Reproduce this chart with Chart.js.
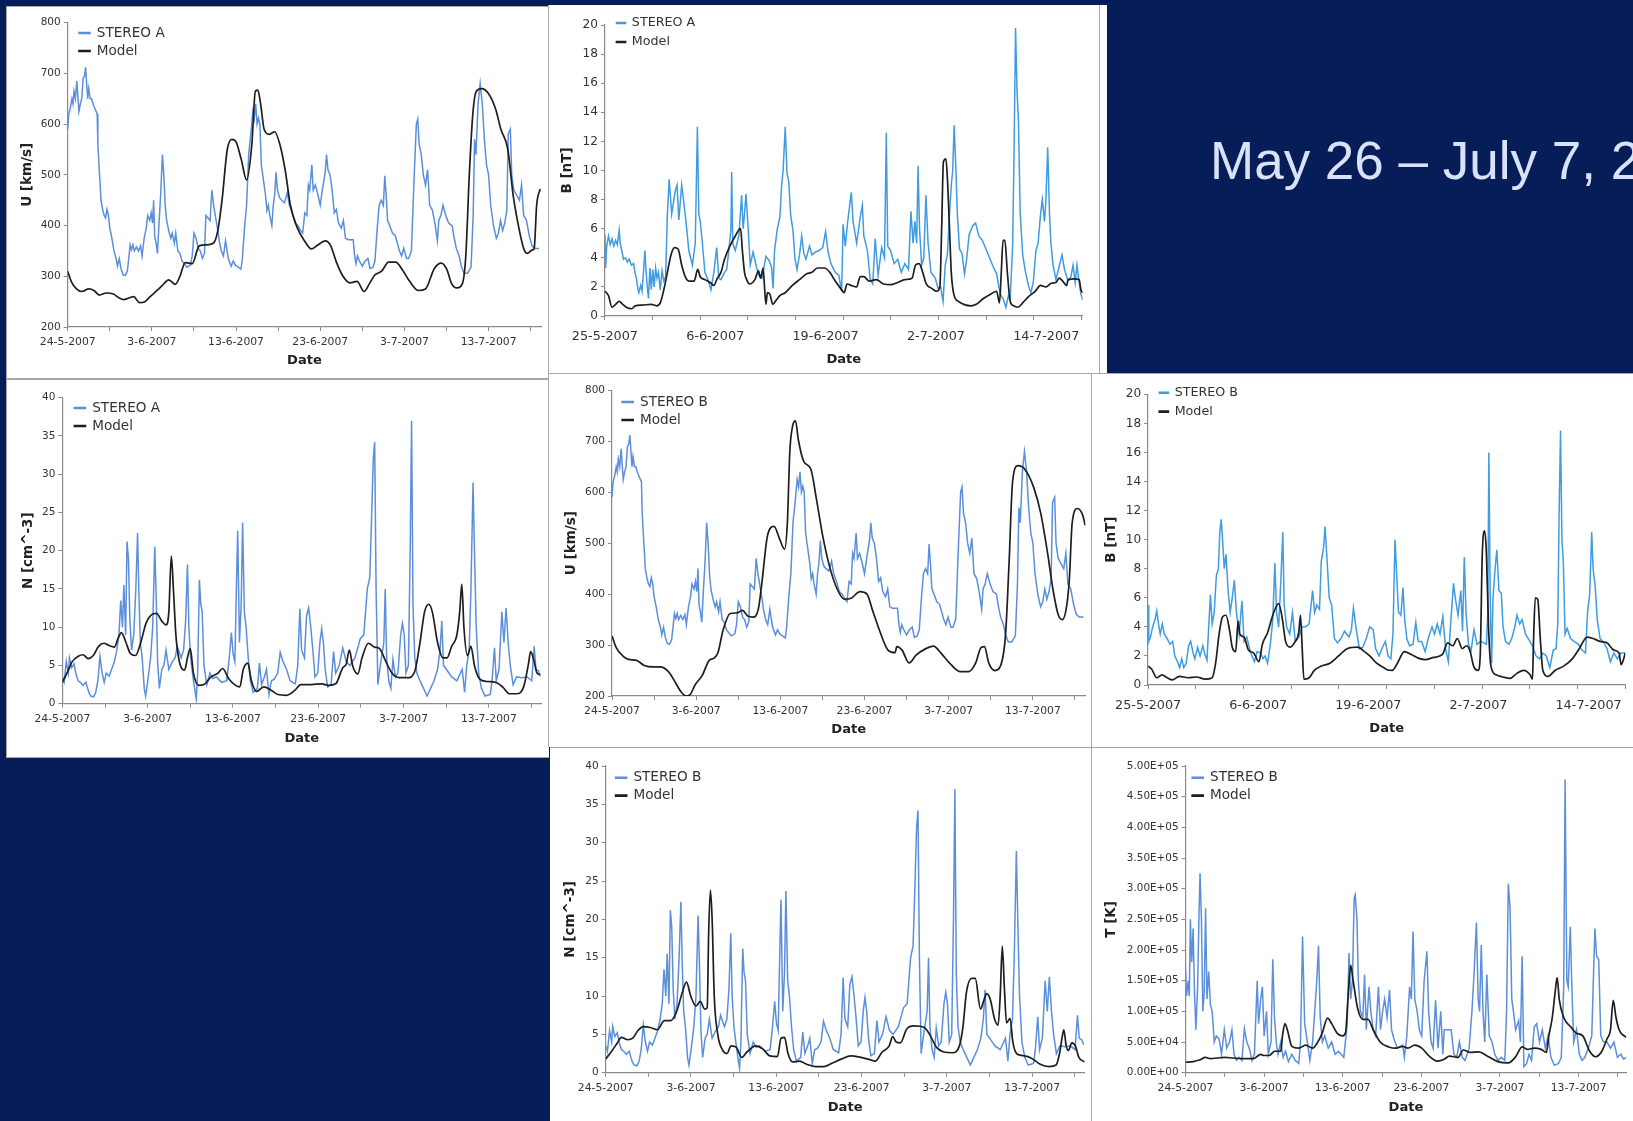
<!DOCTYPE html>
<html><head><meta charset="utf-8">
<style>
html,body{margin:0;padding:0;background:#071d58;width:1633px;height:1121px;overflow:hidden}
.panel{position:absolute;background:#fff;box-sizing:border-box}
.panel canvas{position:absolute;left:0;top:0}
#headline{position:absolute;left:1210px;top:131px;font:53px/60px "Liberation Sans",Arial,sans-serif;color:#d8e2fa;white-space:nowrap}
#rule{position:absolute;left:1099px;top:5px;width:1px;height:368px;background:#a8a8a8}
</style>
<script src="https://cdn.jsdelivr.net/npm/chart.js@4"></script>
</head><body>
<div id="headline">May 26 – July 7, 2007</div>
<script>
const uObsTimes=[0,3,7,12,15,18,22,26,29,32,36,40,44,48,51,54,57,60,64,68,72,78,84,86,90,95,100,104,108,112,116,120,126,132,138,142,147,152,158,164,170,174,178,182,186,190,196,202,208,212,218,224,228,234,238,242,245,248,252,256,260,265,270,274,278,282,288,294,298,304,308,314,320,326,332,340,350,355,360,366,372,378,384,390,394,400,406,411,416,422,428,432,438,444,450,458,466,472,478,486,494,498,504,510,516,522,528,532,536,540,544,548,552,558,564,568,572,576,582,586,590,594,598,604,610,618,626,632,640,648,656,664,670,676,682,686,690,696,700,706,712,720,726,734,738,742,748,754,760,766,772,780,786,792,800,814,818,822,826,832,840,848,856,862,870,876,882,888,894,900,904,908,912,918,926,934,940,946,952,958,966,972,980,988,994,998,1002,1008,1014,1020,1026,1032,1040,1048,1054,1058,1064,1070,1078,1086,1096,1102,1108,1116,1122,1130,1140,1150,1156,1160,1164,1170,1176,1182,1188,1194,1200,1206,1214,1222,1228,1234,1240,1246,1252,1256,1262,1266,1272,1280,1288,1294,1300,1308,1316,1324,1332,1344];
const uObsValues=[590,620,630,650,640,665,650,685,655,625,640,650,690,695,712,680,650,670,650,650,640,630,620,560,510,450,430,420,415,432,420,395,375,350,335,320,335,315,303,302,310,335,362,352,362,350,358,350,360,340,375,395,420,410,425,405,450,380,365,345,400,460,540,500,440,410,390,375,385,365,385,350,345,330,325,318,322,340,385,375,355,350,335,345,420,415,410,470,440,415,390,370,350,340,370,335,320,330,322,318,314,335,395,440,540,580,625,610,640,600,612,600,520,490,460,430,440,420,400,440,460,505,470,455,450,445,465,440,425,405,400,390,385,425,420,480,470,520,470,480,465,440,470,505,540,510,500,470,425,432,405,395,410,375,372,372,340,325,340,330,320,330,335,315,318,330,390,440,450,440,498,460,410,400,385,380,365,350,340,355,335,335,350,500,600,610,560,540,500,480,510,440,430,400,370,410,420,440,420,405,400,375,355,340,320,306,306,318,420,570,540,640,680,640,570,520,500,440,400,375,385,410,390,405,430,580,590,500,470,460,450,480,420,410,380,360,355,355];
const uModelATimes=[0,10,25,40,60,75,90,110,130,145,160,188,205,220,235,255,270,288,307,320,335,355,375,395,415,428,440,455,468,480,495,510,525,535,542,550,560,575,590,605,620,635,655,675,695,710,735,750,765,785,805,825,845,860,875,895,915,935,955,975,1000,1020,1045,1065,1080,1095,1110,1125,1135,1145,1155,1165,1180,1200,1220,1235,1255,1270,1285,1300,1310,1325,1330,1337,1347];
const uModelAValues=[310,290,275,270,275,272,263,267,265,258,254,260,248,250,260,272,282,293,284,300,327,325,360,362,365,390,450,550,570,565,530,490,560,665,667,640,590,580,585,560,510,440,395,370,354,360,370,360,330,300,287,290,270,285,302,310,328,328,312,290,272,275,315,326,315,285,277,285,340,500,620,665,670,660,630,590,550,460,400,355,345,352,355,440,472];
const uModelBTimes=[0,12,32,47,70,92,117,137,162,182,197,212,222,237,257,277,292,302,317,337,357,372,387,402,417,427,442,452,462,477,492,500,507,515,523,532,547,567,582,602,622,642,662,682,707,727,742,762,787,807,812,827,847,867,892,917,937,962,992,1017,1037,1052,1062,1074,1092,1107,1122,1132,1142,1157,1177,1202,1222,1242,1257,1272,1284,1297,1304,1312,1327,1342,1349];
const uModelBValues=[318,295,278,272,270,260,257,257,247,225,208,200,202,222,240,270,275,285,330,362,363,368,357,355,370,420,510,530,533,510,488,540,680,730,740,700,660,645,590,510,450,410,390,392,405,400,370,330,290,285,297,290,265,280,292,298,285,265,248,248,265,295,297,265,250,258,320,460,620,652,645,610,560,480,410,360,350,380,430,540,568,555,535];

const bAObsTimes=[0,2,5,10,15,20,25,30,35,40,43,48,52,58,63,68,74,80,85,88,92,95,100,104,108,112,115,118,122,126,130,134,138,142,146,150,155,160,165,170,175,180,187,197,202,207,215,220,227,235,245,253,259,263,267,273,280,290,297,305,313,319,325,335,341,347,353,355,358,365,375,383,387,391,395,400,407,415,425,431,440,451,460,467,471,475,483,490,495,499,505,510,515,520,527,532,538,545,551,557,563,573,580,590,600,610,618,625,633,645,655,663,667,673,680,690,695,705,715,721,725,735,743,750,757,765,775,783,788,792,800,810,820,830,840,850,857,863,868,873,877,881,887,893,899,905,913,925,933,940,947,953,959,965,970,974,978,983,987,993,1000,1007,1013,1020,1030,1038,1047,1057,1067,1077,1087,1097,1107,1115,1123,1130,1135,1142,1146,1150,1154,1158,1163,1170,1178,1187,1193,1200,1207,1213,1220,1225,1231,1235,1240,1245,1249,1255,1263,1273,1280,1287,1297,1305,1311,1317,1322,1327,1333,1338];
const bAObsValues=[5.6,3.3,4.8,5.5,4.9,5.3,4.8,5.2,4.9,5.9,5,4.4,3.9,4,3.7,3.9,3.5,3.6,2.9,2.6,1.9,1.6,2.1,1.7,3,4.5,3.2,2.2,1.2,3.3,1.8,3.2,2,3.3,2.6,3,1.8,3.1,2.4,2.7,7,9.4,7,8.6,9,6.6,9,8,6.5,4.5,3.5,5,13,7,6.5,5,3,2.4,1.8,3,4.7,2.6,2.5,3,3.2,4.5,6,9.9,5,4.5,5.5,8.3,6,7,8.4,6.5,3.5,4.4,3.3,2.8,2.6,4.1,3.8,3.3,1.9,4.5,6,6.8,9,10,13,9.8,9.2,7,5.8,4,3.2,4.2,5.5,4.3,3.9,4.8,4.2,4.4,4.5,4.7,5.8,4.4,3.6,3,2.8,1.7,6.3,4.8,6.5,8.5,6.5,5,6.8,7.6,5.5,4.5,2.5,2.2,5.3,2.8,4.7,4,12.6,4.8,4.5,3.6,3.9,3,3.6,3.2,7.2,5,6.5,5,10.3,6,3.5,4,8.3,5,3,2.6,1.9,2,1,3.5,4.2,7,9,10,13.1,10,7,4.6,4.3,2.9,3.9,5.6,6.2,6.4,5.5,5.2,4.6,4,3.4,2.9,1.5,1.2,0.6,1.4,1.2,5,11.7,19.8,15.5,13.5,7,4.2,3,2,1.6,2.4,4.5,5,7,8,6.5,8,11.6,7,5,3.5,2.5,3.5,4.2,3.2,2.4,2.7,3.5,2.3,3.5,2.5,1.5,1.1];
const bAModelTimes=[0,10,20,30,40,50,60,75,85,105,130,145,155,165,175,185,195,205,215,225,235,250,260,267,280,295,305,315,325,335,350,365,380,385,391,397,405,420,430,436,443,447,451,455,462,470,480,490,505,525,545,565,580,595,615,630,645,660,670,678,690,705,715,725,740,760,780,800,820,840,860,870,880,890,900,915,930,938,943,948,955,960,965,970,977,990,1005,1025,1040,1060,1080,1097,1105,1110,1115,1120,1127,1135,1145,1157,1170,1185,1205,1220,1235,1250,1263,1272,1282,1293,1297,1315,1328,1333,1338];
const bAModelValues=[1.7,1.4,0.6,0.8,1,0.8,0.6,0.5,0.7,0.75,0.8,0.7,0.9,1.8,3,4.2,4.7,4.6,3.5,2.7,2.4,2.4,3.2,2.7,2.5,2.3,2.1,2.6,3,3.9,4.8,5.5,6,4.5,3,2.5,2.2,2.5,3.1,2.6,3.3,2,0.8,1.6,1.5,0.8,1.1,1.4,1.6,2.1,2.5,2.9,3,3.3,3.3,3,2.4,1.9,1.6,2.2,2.1,2,2.7,2.7,2.4,2.5,2.2,2.15,2.3,2.5,2.6,3.5,3.6,3,2.2,1.9,1.7,2,6,10.6,10.8,9,6,3,1.5,1,0.8,0.7,0.8,1.2,1.5,1.7,0.9,3,5.2,5.2,3,1,0.7,0.6,0.9,1.3,1.7,2.1,2,2.25,2.3,2.6,2.4,2.1,2.5,2.55,2.5,1.8,1.6];

const nObsTimes=[0,5,11,17,20,26,33,39,45,51,59,67,75,81,89,95,101,107,113,119,125,133,141,148,155,161,166,171,175,180,184,188,192,197,203,209,214,218,222,227,233,237,243,251,257,263,267,271,276,283,289,295,303,313,321,327,338,345,351,356,360,365,373,381,385,390,394,398,403,411,420,428,438,453,468,475,481,486,491,495,499,504,509,513,518,523,529,535,543,555,561,567,575,581,588,595,603,613,620,628,638,648,663,670,676,681,689,695,701,707,713,719,727,733,738,743,748,755,765,772,778,788,798,808,818,833,848,858,868,875,880,885,889,893,898,905,915,919,923,929,935,941,948,955,963,968,973,978,985,990,994,998,1003,1009,1018,1028,1038,1048,1058,1068,1075,1080,1085,1093,1108,1123,1138,1145,1151,1158,1163,1169,1173,1178,1185,1193,1203,1218,1223,1230,1235,1243,1251,1257,1263,1269,1275,1283,1293,1308,1323,1336,1343,1348,1355,1361];
const nObsValues=[3.5,2.8,5.5,4,6,4.7,5.2,3.8,3,2.8,2.4,2.8,1.5,1,0.9,1.5,3,6.2,4,2.8,4,3.6,4.6,5.5,7,9,13.5,10,15.5,9,21.2,19,11,7,9,15,22.3,14,8,6,2,1,3,6,10,20.5,14,5.5,2,4.5,5,7,4.5,5.5,6,7.5,6,7,11,18.2,10,6,3,0.6,4,16.2,13,12,5,2.5,4,3.3,3.5,2.8,3,6,9.3,6.5,5.5,14.5,22.6,8,13,23.7,12,10,6,3,1.5,2,5.3,2.5,3.5,4.5,1.2,3,3.2,4,6.7,5.5,4.5,3,2.6,5,12.4,7,6,11.5,12.5,10,7,3.5,4,8,9.8,8,4.5,2.2,2.5,6.8,4,5,7.3,5.5,5,6,8.5,9,15,16.5,24,32,34.2,15,2.5,5,8,15,6,3,2,5.8,3.5,4,9,10.5,9,4,5,20,37,13,6,4,3,2,1,2,3,4.5,7,10.8,5,4.5,3.5,3,4.5,1.5,5,7,15,28.9,20,10,4,2,1,1.2,3,7.3,3,4.5,12,8,12.5,8,5,2.5,3.5,3.4,3.5,3,7.5,4.5,4.3,3.6];
const nModelATimes=[0,13,28,45,59,73,88,103,118,133,148,158,168,181,193,208,223,238,253,268,283,295,303,310,316,323,333,348,356,364,373,388,403,423,443,456,473,493,505,515,528,538,553,573,593,613,638,663,678,708,738,758,778,798,808,817,826,841,853,871,888,903,918,938,958,983,1003,1018,1031,1043,1053,1068,1083,1095,1108,1123,1131,1137,1143,1153,1163,1173,1188,1208,1233,1253,1273,1293,1313,1326,1333,1343,1351,1360];
const nModelAValues=[2.8,4,5.5,6.2,6.4,5.9,6.3,7.5,7.9,7.6,7.4,8.5,9.3,8,6.6,6.3,8,10.5,11.6,11.8,10.8,10.3,12,19.3,15,9,5.5,4.4,6,7.2,4,2.4,2.5,3.5,4,4.6,3.3,2.4,2.2,4.5,5.3,3,1.6,2.2,1.8,1.2,1.1,1.8,2.5,2.5,2.6,2.4,2.6,4.7,5.2,7,5,3.9,6,7.9,7.4,7.2,5.8,4,3.4,3.4,4.2,8,12,13,12,8,6,6,7.5,9,12,15.6,10,6.3,7.5,5,3.2,2.9,2.8,2.2,1.3,1.3,2.2,5,6.8,5.5,4,3.8];
const nModelBTimes=[0,17,32,45,62,77,92,107,127,147,167,185,202,217,230,242,257,269,282,289,293,298,303,309,319,332,345,357,372,387,402,427,447,467,489,499,509,519,532,552,572,597,622,647,672,697,727,752,767,787,807,817,827,839,857,877,907,922,942,962,987,1007,1017,1027,1042,1052,1067,1077,1085,1095,1107,1117,1123,1129,1135,1141,1151,1159,1172,1192,1212,1237,1262,1282,1292,1299,1304,1311,1317,1327,1337,1347,1364];
const nModelBValues=[1.8,2.8,3.8,4.6,4.3,4.5,5.5,6,5.9,5.6,6.8,6.8,8,10.3,11.8,10,8.7,9.3,8.3,8.5,18,23.8,20,10,5,3,2.5,3.5,3.3,2,2.7,3.5,3.1,2.2,2.1,4.5,4.6,2.5,1.4,1.5,1.1,0.8,0.8,1.3,1.8,2.2,2,1.7,1.5,2.7,3.5,4.7,4,3.9,5.7,6.1,5.9,5,3.3,2.7,2.6,3.5,6,10.5,12.3,12.3,8.3,9.5,10.3,9.5,7,6.2,10,16.5,11,6.5,7.1,4,2.4,2.2,1.9,1.1,0.8,1,2.5,4.5,5.6,3.5,2.9,3.9,3.5,2,1.4];

const bBObsTimes=[0,2,7,13,20,25,30,35,41,47,55,63,71,77,85,91,97,103,110,117,123,130,135,143,150,158,163,170,175,180,185,191,197,203,207,211,215,220,225,231,237,243,249,255,263,271,277,285,293,300,307,315,325,332,338,345,353,360,366,371,377,383,389,393,400,409,417,425,435,445,455,465,475,481,487,495,500,507,511,517,523,530,538,547,557,567,580,587,593,600,610,620,630,640,650,657,667,677,685,693,701,707,713,717,723,730,736,741,747,755,765,773,780,790,800,810,820,827,835,843,851,859,867,873,882,887,895,903,908,913,918,925,933,941,950,960,970,977,981,984,988,992,996,1002,1007,1013,1020,1025,1032,1042,1050,1059,1065,1073,1080,1090,1100,1110,1120,1130,1140,1150,1160,1170,1178,1183,1187,1191,1195,1199,1204,1210,1220,1230,1243,1253,1263,1269,1275,1281,1285,1291,1297,1305,1317,1325,1335,1345,1355,1365,1378];
const bBObsValues=[5.5,3,3.3,4,4.5,5.1,4.2,3.5,4.2,3.5,3.2,2.8,3,2,1.6,1.2,1.8,1.2,1.5,2.7,3,2.2,1.8,2.6,2,2.7,2.2,1.7,4,6.2,4.2,5,7.5,8,10.5,11.4,10,8,9,6.5,5,6,7.2,5,3.5,5.8,3,3.3,2.5,2,1.6,2.3,2.2,1.8,2,1.5,2.8,4.5,8.4,5,4,7,10.5,5.5,4,3.5,5,3,3.3,4,4,4.2,6.5,5,5.5,5.2,8.5,9.5,10.9,8.5,6,5.5,3.2,2.9,3.2,3.7,3.3,3.8,5.3,4,2.5,2.6,3.2,4,3.8,2.5,2,2.6,3,2,1.8,3.5,10,8,5,4.8,6.7,4.5,3.2,2.7,2.8,4.3,3,3,2.3,3.3,4,3.5,4.2,3.5,4.7,2.5,1.6,4,7,6,4.8,6.5,3.7,8.8,5,2.8,2.4,3.8,2.8,3,2.9,2.8,5,16,6,1.5,6,8,9.3,6.5,6.3,4,3,2.8,3.2,4,4.8,4.2,4.5,3.5,3.1,2.7,2,1.8,2.2,2,1.2,2.4,2.5,4.2,12,17.5,10,8.5,3.5,3.9,3.2,3,2.8,2.4,2.2,5,6.2,10.5,8,6.8,4.5,3.2,2.9,2.5,1.6,2.2,1.8,2.2,2.2];
const bBModelTimes=[0,10,25,40,55,70,90,115,140,165,185,195,205,215,225,235,243,253,260,265,277,290,305,320,330,345,360,377,388,397,410,425,435,440,445,450,465,480,500,525,550,575,605,625,640,660,680,690,705,720,740,760,780,800,825,850,865,880,893,907,920,930,940,953,959,965,972,977,983,990,1005,1025,1045,1065,1085,1103,1110,1113,1118,1125,1133,1140,1155,1175,1200,1225,1245,1268,1285,1305,1325,1345,1360,1366,1372,1378];
const bBModelValues=[1.3,1.1,0.5,0.7,0.5,0.35,0.6,0.5,0.55,0.4,0.5,1.5,3.5,4.7,4.8,3.8,2.6,2.3,4.4,3.5,3.3,2.4,2.2,1.6,2.8,3.6,4.8,5.6,4.5,3,2.6,3,3.6,4.8,2.5,0.4,0.5,1,1.3,1.5,2,2.5,2.6,2.3,2,1.5,1.2,1.05,1,1.5,2.3,2.1,1.85,1.75,1.9,2.1,2.9,2.7,3.2,2.5,2.7,2.3,1.3,1,2,9,10.6,9,4,1.3,0.7,0.55,0.45,0.8,1,0.7,0.4,3,6,5.9,3,1,0.6,1,1.3,1.8,2.5,3.3,3.2,3,2.9,2.4,2.2,1.4,1.7,2.2];

const tObsTimes=[0,3,8,11,14,18,22,26,30,35,39,42,46,50,54,58,62,67,72,77,83,89,97,104,112,119,127,134,140,147,155,163,170,177,184,192,199,207,211,217,222,227,234,239,247,252,257,262,267,275,282,289,297,307,317,327,332,338,344,352,359,367,372,379,384,389,395,402,412,422,432,442,457,467,472,477,482,487,490,495,499,505,512,517,522,530,535,542,549,557,563,569,575,582,589,595,602,612,627,632,639,647,652,657,662,669,675,682,689,697,702,709,715,722,729,737,743,747,767,775,783,791,799,807,819,827,833,840,845,849,854,859,864,870,877,885,893,902,912,922,927,932,937,942,947,953,962,967,972,977,985,992,999,1007,1014,1022,1030,1039,1047,1055,1065,1077,1085,1092,1096,1101,1105,1111,1116,1121,1129,1137,1145,1153,1163,1173,1177,1182,1187,1193,1199,1207,1217,1227,1237,1247,1257,1265,1273];
const tObsThousands=[170,125,150,125,250,180,235,130,70,140,260,325,250,100,130,268,120,165,110,100,50,60,55,30,70,40,50,70,30,20,25,20,72,50,40,20,30,150,80,120,140,60,100,30,50,185,90,50,30,50,25,35,18,30,20,15,50,222,80,50,20,50,90,150,207,90,50,60,40,50,30,35,25,80,195,120,150,285,290,250,150,100,90,160,70,140,100,70,60,140,70,100,120,90,135,70,55,40,45,25,60,140,120,230,120,100,70,60,150,198,100,50,40,118,40,100,30,70,70,30,25,50,25,20,40,100,160,245,120,100,208,100,50,160,60,50,30,20,25,20,100,308,270,120,100,70,85,50,190,10,15,30,20,75,80,50,70,40,60,25,12,15,25,140,478,150,140,238,130,50,70,30,20,25,40,60,140,235,190,185,60,50,50,40,50,25,30,22,25];
const tModelTimes=[0,22,42,57,72,92,112,137,162,197,217,227,242,257,275,280,287,294,307,327,347,367,382,395,410,422,437,452,462,469,477,484,497,512,527,542,562,587,607,627,642,662,682,702,727,747,762,787,802,822,847,872,902,932,952,972,987,1007,1027,1042,1049,1059,1067,1073,1079,1092,1112,1127,1147,1167,1184,1202,1217,1227,1235,1243,1252,1262,1273];
const tModelThousands=[17,18,21,25,23,24,25,24,23,23,30,28,28,35,35,60,80,70,43,40,45,40,50,65,89,80,65,60,65,120,175,150,105,87,87,70,50,42,40,43,40,45,40,28,19,22,27,25,37,33,34,27,18,16,25,42,38,40,38,33,60,90,130,155,120,90,75,65,60,35,26,35,55,70,118,90,70,62,58];

const dateLabelsDecadal=["24-5-2007","3-6-2007","13-6-2007","23-6-2007","3-7-2007","13-7-2007"];
const dateLabelsThirteen=["25-5-2007","6-6-2007","19-6-2007","2-7-2007","14-7-2007"];

function points(t,v){return t.map((x,i)=>({x,y:v[i]})).filter(p=>p.y!==undefined);}
const tf=(v)=>v===0?"0.00E+00":(v>=100000?(v/100000).toFixed(2)+"E+05":(v/10000).toFixed(2)+"E+04");

const noteLayout={id:"noteLayout",afterLayout(c){const o=c.options.plugins.noteLayout;const p=c.options.plugins.legend.labels.padding;const f=c.options.plugins.legend.labels.font.size;c.legend.left=o.x-p-2;c.legend.top=o.y-p-f/2;}};

function draw(cfg){
  const d=document.createElement("div");d.className="panel";
  const P=cfg.panel;
  d.style.cssText=`left:${P[0]}px;top:${P[1]}px;width:${P[2]}px;height:${P[3]}px;`+(cfg.border||"");
  const c=document.createElement("canvas");c.width=P[2];c.height=P[3];c.style.width=P[2]+"px";c.style.height=P[3]+"px";
  d.appendChild(c);document.body.appendChild(d);
  const pl=cfg.plot[0]-P[0],pt=cfg.plot[1]-P[1],pr=cfg.plot[2]-P[0],pb=cfg.plot[3]-P[1];
  const tickH=5,labH=P[3]-pb-tickH;
  const axisCol="#8a8a8a",txt="#333";
  const marks=[];for(let i=0;i*cfg.tickStep<=cfg.xMax+0.01;i++)marks.push(i*cfg.tickStep);
  const labelOf=new Map(cfg.labelAt.map((v,i)=>[v,cfg.labels[i]]));
  new Chart(c,{
    type:"line",
    data:{datasets:[
      {label:"Model",data:cfg.model,borderColor:"#1e1e1e",backgroundColor:"#1e1e1e",borderWidth:1.7,pointRadius:0,cubicInterpolationMode:"monotone"},
      {label:cfg.name,data:cfg.obs,borderColor:cfg.color,backgroundColor:cfg.color,borderWidth:1.5,pointRadius:0,tension:0}
    ]},
    plugins:[noteLayout],
    options:{
      responsive:false,animation:false,
      layout:{padding:{top:pt,right:P[2]-pr,left:0,bottom:0}},
      plugins:{
        title:{display:false},tooltip:{enabled:false},
        noteLayout:{x:cfg.legend[0]-P[0],y:cfg.legend[1]-P[1]},
        legend:{display:true,position:"chartArea",align:"start",
          labels:{boxWidth:cfg.legendBox,boxHeight:1,padding:cfg.legendGap-cfg.legendFont,color:txt,
            font:{family:"DejaVu Sans",size:cfg.legendFont},
            sort:(a,b)=>b.datasetIndex-a.datasetIndex}}
      },
      scales:{
        x:{type:"linear",axis:"x",position:"bottom",weight:0,min:0,max:cfg.xMax,
          afterBuildTicks:s=>{s.ticks=marks.map(v=>({value:v}));},
          afterFit:s=>{s.height=tickH;},
          border:{display:true,color:axisCol,width:1.2},
          grid:{display:true,drawOnChartArea:false,drawTicks:true,tickLength:4,color:axisCol},
          ticks:{display:false}},
        x2:{type:"linear",axis:"x",position:"bottom",weight:1,min:0,max:cfg.xMax,
          afterBuildTicks:s=>{s.ticks=cfg.labelAt.map(v=>({value:v}));},
          afterFit:s=>{s.height=labH;},
          border:{display:false},grid:{display:false,drawTicks:false},
          ticks:{display:true,autoSkip:false,maxRotation:0,minRotation:0,padding:cfg.xPad,color:txt,
            font:{family:"DejaVu Sans",size:cfg.tickFont},callback:v=>labelOf.get(v)||""},
          title:{display:true,text:"Date",color:"#222",font:{family:"DejaVu Sans",size:13.1,weight:"bold"},padding:{top:0,bottom:cfg.dateBottom}}},
        y:{type:"linear",position:"left",min:cfg.yMin,max:cfg.yMax,
          afterFit:s=>{s.width=pl;},
          border:{display:true,color:axisCol,width:1.2},
          grid:{display:true,drawOnChartArea:false,drawTicks:true,tickLength:4,color:axisCol},
          ticks:{stepSize:cfg.yStep,padding:3,color:txt,font:{family:"DejaVu Sans",size:cfg.yFont},callback:cfg.yFmt||(v=>v)},
          title:{display:true,text:cfg.yTitle,color:"#222",font:{family:"DejaVu Sans",size:13.5,weight:"bold"},padding:{top:cfg.yTitleX-P[0]-8,bottom:0}}}
      }
    }
  });
}

const obsBlue="#5b8fdb",magBlue="#3f9be2";
const uOpts={yMin:200,yMax:800,yStep:100,yFont:10.5,tickFont:10.8,xMax:1350,tickStep:120,labelAt:[0,240,480,720,960,1200],labels:dateLabelsDecadal,yTitle:"U [km/s]",legendBox:11,legendFont:13.6,legendGap:18,xPad:4,color:obsBlue};
const nOpts={yMin:0,yMax:40,yStep:5,yFont:10.5,tickFont:10.8,xMax:1363,tickStep:121.4,labelAt:[0,242.8,485.6,728.4,971.2,1214],labels:dateLabelsDecadal,yTitle:"N [cm^-3]",legendBox:11,legendFont:13.6,legendGap:18,xPad:4,color:obsBlue};
const bOpts={yMin:0,yMax:20,yStep:2,yFont:12.1,tickFont:12.8,labels:dateLabelsThirteen,yTitle:"B [nT]",legendBox:9,legendFont:12.7,legendGap:19,xPad:8,color:magBlue};

draw({...uOpts,name:"STEREO A",panel:[6,6,543,373],plot:[66.7,21.7,540.2,326],legend:[80,32],yTitleX:26.3,dateBottom:11.5,border:"border:1px solid #a8a8a8;border-right:0",
  obs:points(uObsTimes,uObsValues),model:points(uModelATimes,uModelAValues)});
draw({...bOpts,name:"STEREO A",panel:[548,5,559,368],plot:[603.9,25,1081.7,316],legend:[617.5,23],yTitleX:566.4,dateBottom:6,xMax:1338,tickStep:133.5,labelAt:[0,309,618,927,1236],border:"border-left:1px solid #a8a8a8",
  obs:points(bAObsTimes,bAObsValues),model:points(bAModelTimes,bAModelValues)});
draw({...nOpts,name:"STEREO A",panel:[6,379,543,379],plot:[61.4,396.7,540.2,702.7],legend:[75.4,407],yTitleX:27,dateBottom:12.5,border:"border:1px solid #a8a8a8;border-right:0",
  obs:points(nObsTimes,nObsValues),model:points(nModelATimes,nModelAValues)});
draw({...uOpts,name:"STEREO B",panel:[548,373,544,374],plot:[611,389.3,1084.5,695],legend:[623.2,401],yTitleX:570.6,dateBottom:10.5,border:"border:1px solid #a8a8a8;border-right:0;border-bottom:0",
  obs:points(uObsTimes,uObsValues),model:points(uModelBTimes,uModelBValues)});
draw({...bOpts,name:"STEREO B",panel:[1091,373,542,374],plot:[1147.1,393.3,1624.3,684],legend:[1160.3,391.7],yTitleX:1110,dateBottom:12,xMax:1378,tickStep:137.8,labelAt:[0,318,636,954,1272],border:"border-top:1px solid #a8a8a8;border-left:1px solid #a8a8a8",
  obs:points(bBObsTimes,bBObsValues),model:points(bBModelTimes,bBModelValues)});
draw({...nOpts,name:"STEREO B",panel:[550,747,542,374],plot:[605.7,765,1084.5,1071.7],legend:[617.6,776.7],yTitleX:570.3,dateBottom:6.5,border:"border-top:1px solid #a8a8a8",
  obs:points(nObsTimes,nObsValues),model:points(nModelBTimes,nModelBValues)});
draw({...nOpts,name:"STEREO B",panel:[1091,747,542,374],plot:[1184.5,765,1625.4,1071.7],legend:[1193.2,776.7],yTitleX:1110.8,dateBottom:6.5,xMax:1273,tickStep:113.5,labelAt:[0,227,454,681,908,1135],yMin:0,yMax:500000,yStep:50000,yFmt:tf,yFont:10.4,yTitle:"T [K]",border:"border-top:1px solid #a8a8a8;border-left:1px solid #a8a8a8",
  obs:points(tObsTimes,tObsThousands.map(v=>v*1000)),model:points(tModelTimes,tModelThousands.map(v=>v*1000))});
const r=document.createElement("div");r.id="rule";document.body.appendChild(r);
</script>
</body></html>
